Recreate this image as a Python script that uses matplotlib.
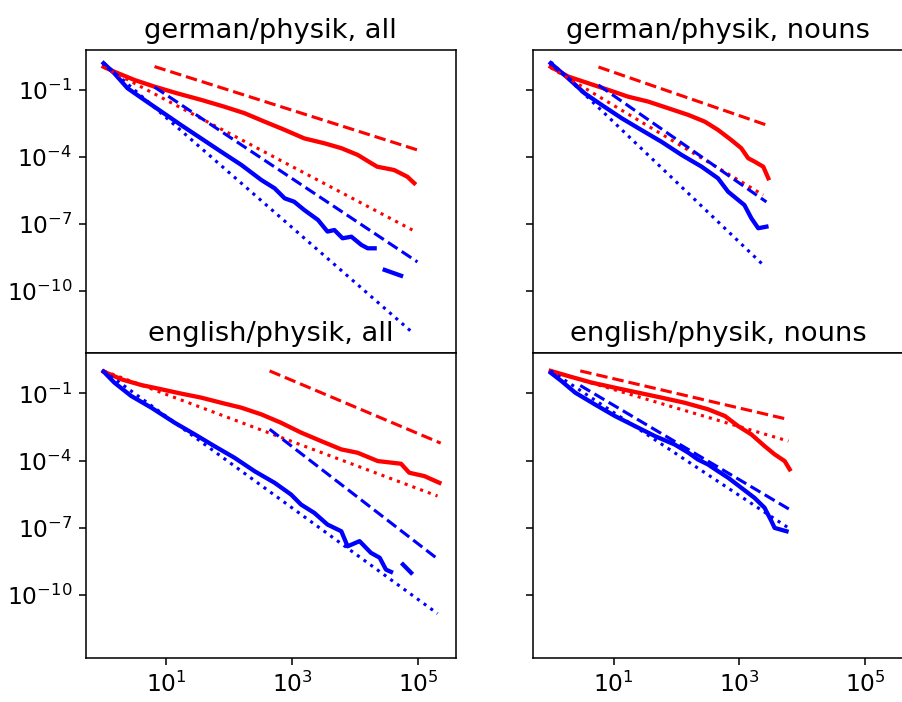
import numpy as np
import matplotlib
matplotlib.use('Agg')
import matplotlib.pyplot as plt

nan = np.nan

titles = ['german/physik, all', 'german/physik, nouns',
          'english/physik, all', 'english/physik, nouns']

# values are log10 exponents
# german/physik, all
ga_red_x = [0, 0.17, 0.49, 0.81, 1.17, 1.56, 1.92, 2.24, 2.56, 2.88, 3.19, 3.51, 3.78, 4.04, 4.26, 4.35, 4.62, 4.83, 4.94]
ga_red_y = [0.04, -0.18, -0.55, -0.85, -1.15, -1.45, -1.75, -2.04, -2.42, -2.79, -3.17, -3.39, -3.61, -3.91, -4.29, -4.44, -4.59, -4.89, -5.18]
ga_blue_x = [0, 0.17, 0.38, 0.65, 0.92, 1.23, 1.55, 1.87, 2.19, 2.51, 2.72, 2.88, 3.03, 3.19, 3.41, 3.56, 3.67, 3.80, 3.94, 4.10, 4.20, 4.31, nan, 4.47, 4.73]
ga_blue_y = [0.20, -0.25, -0.92, -1.45, -1.97, -2.57, -3.17, -3.77, -4.36, -5.04, -5.41, -5.86, -6.01, -6.38, -6.83, -7.35, -7.28, -7.65, -7.58, -7.95, -8.10, -8.10, nan, -9.07, -9.33]
ga_fit_red_dash = ([0.81, 4.99], [0.05, -3.69])
ga_fit_red_dot = ([0, 4.91], [0.03, -7.28])
ga_fit_blue_dash = ([0.81, 4.99], [-0.87, -8.71])
ga_fit_blue_dot = ([0, 4.92], [0.21, -11.9])

# german/physik, nouns
gn_red_x = [0, 0.28, 0.60, 0.92, 1.23, 1.55, 1.87, 2.19, 2.45, 2.66, 2.87, 3.03, 3.14, 3.24, 3.38, 3.46]
gn_red_y = [0.04, -0.40, -0.70, -1.0, -1.30, -1.52, -1.82, -2.12, -2.42, -2.79, -3.24, -3.61, -4.06, -4.21, -4.44, -4.96]
gn_blue_x = [0, 0.28, 0.54, 0.81, 1.13, 1.44, 1.76, 2.08, 2.40, 2.66, 2.82, 2.98, 3.08, 3.19, 3.30, 3.43]
gn_blue_y = [0.20, -0.48, -1.15, -1.67, -2.27, -2.79, -3.32, -3.91, -4.44, -4.96, -5.56, -5.93, -6.16, -6.75, -7.20, -7.13]
gn_fit_red_dash = ([0.76, 3.43], [0.03, -2.57])
gn_fit_red_dot = ([0, 3.38], [0.0, -5.71])
gn_fit_blue_dash = ([0.76, 3.43], [-0.78, -6.02])
gn_fit_blue_dot = ([0, 3.38], [0.26, -8.85])

# english/physik, all
ea_red_x = [0, 0.29, 0.60, 0.92, 1.23, 1.55, 1.87, 2.19, 2.51, 2.82, 3.14, 3.46, 3.78, 4.04, 4.36, 4.73, 4.86, 5.10, 5.34]
ea_red_y = [-0.03, -0.38, -0.63, -0.82, -1.01, -1.19, -1.42, -1.64, -1.94, -2.31, -2.75, -3.13, -3.50, -3.65, -4.02, -4.14, -4.54, -4.69, -4.99]
ea_blue_x = [0, 0.17, 0.44, 0.76, 1.13, 1.45, 1.76, 2.08, 2.40, 2.72, 2.98, 3.14, 3.35, 3.56, 3.78, 3.88, 4.07, 4.25, 4.39, 4.49, 4.57, nan, 4.76, 4.89]
ea_blue_y = [-0.03, -0.52, -1.12, -1.64, -2.31, -2.83, -3.35, -3.87, -4.47, -4.99, -5.51, -5.96, -6.33, -6.85, -7.15, -7.82, -7.59, -8.11, -8.33, -8.86, -8.96, nan, -8.63, -9.0]
ea_fit_red_dash = ([2.64, 5.36], [0.0, -3.22])
ea_fit_red_dot = ([0, 5.31], [0.0, -5.58])
ea_fit_blue_dash = ([2.64, 5.31], [-2.6, -8.38])
ea_fit_blue_dot = ([0, 5.31], [0.0, -10.82])

# english/physik, nouns
en_red_x = [0, 0.28, 0.65, 1.02, 1.39, 1.76, 2.13, 2.50, 2.77, 2.98, 3.19, 3.40, 3.56, 3.72, 3.80]
en_red_y = [0.0, -0.23, -0.52, -0.75, -0.97, -1.19, -1.42, -1.71, -2.01, -2.46, -2.83, -3.35, -3.72, -4.02, -4.39]
en_blue_x = [0, 0.17, 0.39, 0.70, 1.02, 1.34, 1.66, 1.97, 2.19, 2.34, 2.50, 2.66, 2.82, 3.03, 3.24, 3.40, 3.51, 3.56, 3.75]
en_blue_y = [-0.08, -0.45, -0.97, -1.49, -2.01, -2.46, -2.91, -3.28, -3.65, -3.95, -4.17, -4.47, -4.76, -5.21, -5.66, -6.10, -6.70, -7.0, -7.15]
en_fit_red_dash = ([0.47, 3.77], [0.0, -2.16])
en_fit_red_dot = ([0, 3.78], [0.0, -3.13])
en_fit_blue_dash = ([0.47, 3.80], [-0.65, -6.18])
en_fit_blue_dot = ([0, 3.78], [0.0, -7.0])

panels = [
    (ga_red_x, ga_red_y, ga_blue_x, ga_blue_y, ga_fit_red_dash, ga_fit_red_dot, ga_fit_blue_dash, ga_fit_blue_dot),
    (gn_red_x, gn_red_y, gn_blue_x, gn_blue_y, gn_fit_red_dash, gn_fit_red_dot, gn_fit_blue_dash, gn_fit_blue_dot),
    (ea_red_x, ea_red_y, ea_blue_x, ea_blue_y, ea_fit_red_dash, ea_fit_red_dot, ea_fit_blue_dash, ea_fit_blue_dot),
    (en_red_x, en_red_y, en_blue_x, en_blue_y, en_fit_red_dash, en_fit_red_dot, en_fit_blue_dash, en_fit_blue_dot),
]


def p10(v):
    return 10.0 ** np.array(v, dtype=float)


fig, axes = plt.subplots(2, 2, sharex=True, sharey=True, figsize=(902/140, 702/140), dpi=140)
# axes positions (right column runs off the right edge, like the original crop)
pos = [[0.0953, 0.497, 0.410, 0.432], [0.591, 0.497, 0.410, 0.432],
       [0.0953, 0.0627, 0.410, 0.4345], [0.591, 0.0627, 0.410, 0.4345]]

for i, ax in enumerate(axes.flat):
    rx, ry, bx, by, rd, rt, bd, bt = panels[i]
    ax.set_position(pos[i])
    ax.plot(p10(rx), p10(ry), 'r-', lw=2.2)
    ax.plot(p10(bx), p10(by), 'b-', lw=2.2)
    ax.plot(p10(rd[0]), p10(rd[1]), 'r--', lw=1.6)
    ax.plot(p10(rt[0]), p10(rt[1]), 'r:', lw=1.6)
    ax.plot(p10(bd[0]), p10(bd[1]), 'b--', lw=1.6)
    ax.plot(p10(bt[0]), p10(bt[1]), 'b:', lw=1.6)
    ax.set_xscale('log')
    ax.set_yscale('log')
    ax.set_title(titles[i], fontsize=14)
    ax.tick_params(labelsize=12)

ax = axes[0, 0]
ax.set_xlim(10**-0.28, 10**5.6)
ax.set_ylim(10**-12.8, 10**0.8)
ax.set_xticks([1e1, 1e3, 1e5])
ax.set_yticks([1e-1, 1e-4, 1e-7, 1e-10])
for ax in axes.flat:
    ax.minorticks_off()

plt.savefig('out.png', dpi=140)
